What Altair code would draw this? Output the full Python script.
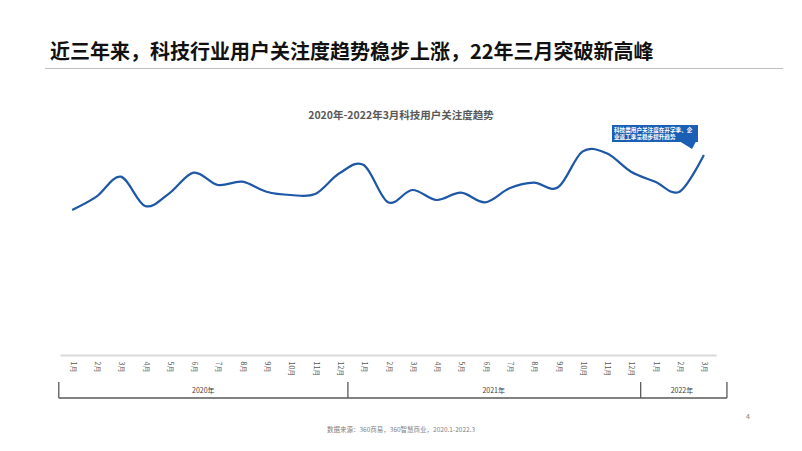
import json
import altair as alt
import pandas as pd

# ---- data ----
years = ["2020", "2021", "2022"]
months_per_year = [12, 12, 3]
month_labels = [f"{m}月" for m in range(1, 13)] + [f"{m}月" for m in range(1, 13)] + ["1月", "2月", "3月"]
attention = [145, 158.3, 178.3, 149, 161.7, 182.3, 170, 173.3, 163.3, 160, 161, 181.7,
             190, 152.7, 165, 155, 162.3, 152.7, 166.7, 172.3, 167.7, 203.3, 201.7, 183.3,
             173.3, 163.3, 200]
year_labels = ["2020年", "2021年", "2022年"]
year_label_pos = [5.4, 17.35, 25.1]
bracket_edges = [-0.55, 11.35, 23.4, 26.95]

title_text = "近三年来，科技行业用户关注度趋势稳步上涨，22年三月突破新高峰"
subtitle_text = "2020年-2022年3月科技用户关注度趋势"
note_lines = ["科技类用户关注度在开学季、企", "业返工季呈稳步提升趋势"]
source_text = "数据来源：360商易，360智慧商业，2020.1-2022.3"
page_no = "4"

FONT = "Noto Sans CJK SC"
LINE_BLUE = "#1d57a5"
BOX_BLUE = "#1a5fb4"

df = pd.DataFrame({"idx": list(range(len(attention))), "value": attention, "month": month_labels})

xscale = alt.Scale(domain=[-0.5, 26.5], nice=False, zero=False)
yscale = alt.Scale(domain=[0, 225], nice=False, zero=False)

label_expr = json.dumps(month_labels, ensure_ascii=False) + "[datum.value]"
xaxis = alt.Axis(
    values=list(range(len(attention))), tickCount=len(attention), labelExpr=label_expr,
    labelAngle=90, labelAlign="left", labelBaseline="middle", ticks=False, grid=False,
    domainColor="#d9d9d9", domainWidth=2, labelFontSize=7, labelColor="#595959",
    labelPadding=6, labelFlush=False, labelOverlap=False, labelBound=False,
    labelFont=FONT, title=None)

line = alt.Chart(df).mark_line(interpolate="cardinal", color=LINE_BLUE, strokeWidth=2.2).encode(
    x=alt.X("idx:Q", scale=xscale, axis=xaxis),
    y=alt.Y("value:Q", scale=yscale, axis=None),
)

# year bracket
edges_df = pd.DataFrame({"e": bracket_edges})
vrules = alt.Chart(edges_df).mark_rule(color="#595959", strokeWidth=1.3).encode(
    x=alt.X("e:Q", scale=xscale, axis=xaxis), y=alt.value(252), y2=alt.value(268))
hdf = pd.DataFrame({"s": [bracket_edges[0]], "t": [bracket_edges[-1]]})
hrule = alt.Chart(hdf).mark_rule(color="#595959", strokeWidth=1.3).encode(
    x=alt.X("s:Q", scale=xscale, axis=xaxis), x2="t:Q", y=alt.value(268))
ydf = pd.DataFrame({"p": year_label_pos, "lab": year_labels})
ytext = alt.Chart(ydf).mark_text(font=FONT, fontSize=7, color="#404040").encode(
    x=alt.X("p:Q", scale=xscale, axis=xaxis), y=alt.value(261), text="lab:N")

# titles & decorations
def txt(t, x, y, **kw):
    return alt.Chart(pd.DataFrame({"t": [t]})).mark_text(font=FONT, **kw).encode(
        x=alt.value(x), y=alt.value(y), text="t:N")

title = txt(title_text, -10, -71, fontSize=20, fontWeight="bold", color="#111111",
            align="left", baseline="alphabetic")
underline = alt.Chart(pd.DataFrame({"a": [0]})).mark_rule(color="#bfbfbf", strokeWidth=1).encode(
    x=alt.value(-15), x2=alt.value(723), y=alt.value(-61.5))
subtitle = txt(subtitle_text, 341, -14, fontSize=10.5, fontWeight="bold", color="#595959",
               align="center", baseline="middle")

box = alt.Chart(pd.DataFrame({"a": [0]})).mark_rect(color=BOX_BLUE).encode(
    x=alt.value(552), x2=alt.value(638), y=alt.value(-5), y2=alt.value(12))
pointer = alt.Chart(pd.DataFrame({"a": [0]})).mark_point(
    shape="M -1 -0.44 L 1 -0.44 L 0.5 0.5 Z", filled=True, color=BOX_BLUE, opacity=1, size=256
).encode(x=alt.value(628), y=alt.value(15))
note1 = txt(note_lines[0], 554, -0.5, fontSize=5.6, fontWeight="bold", color="white",
            align="left", baseline="middle")
note2 = txt(note_lines[1], 554, 6.5, fontSize=5.6, fontWeight="bold", color="white",
            align="left", baseline="middle")

source = txt(source_text, 341, 300, fontSize=6.5, color="#7f7f7f", align="center", baseline="middle")
pnum = txt(page_no, 688, 287, fontSize=7, color="#7f7f7f", align="center", baseline="middle")

chart = alt.layer(
    line, vrules, hrule, ytext, title, underline, subtitle, box, pointer, note1, note2, source, pnum
).properties(
    width=656, height=225,
    autosize=alt.AutoSizeParams(type="none"),
    padding={"left": 52, "top": 122, "right": 78, "bottom": 88},
    background="white",
).configure_view(strokeWidth=0)

chart.save("out.html", embed_options={"renderer": "svg", "actions": False})
